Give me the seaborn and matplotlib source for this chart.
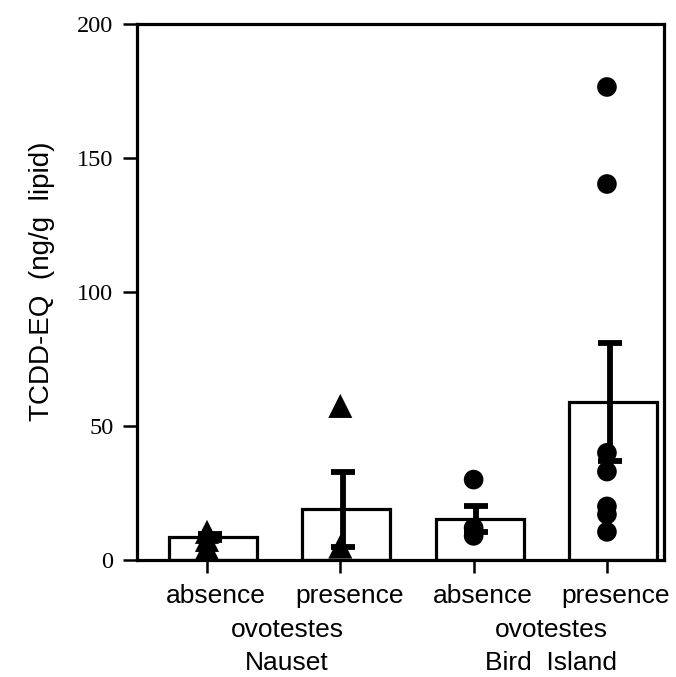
import numpy as np
import pandas as pd
import matplotlib
matplotlib.use("Agg")
import matplotlib.pyplot as plt
import seaborn as sns
from matplotlib.transforms import ScaledTranslation, blended_transform_factory

# Group summary: mean TCDD-EQ and standard error per group
sites = ["Nauset", "Nauset", "Bird Island", "Bird Island"]
conditions = ["absence", "presence", "absence", "presence"]
mean_teq = [8.6, 19.0, 15.3, 59.0]
se_teq = [1.2, 14.0, 5.0, 22.0]

# Individual samples (ng/g lipid)
nauset_absence = [10.5, 7.5, 4.5]
nauset_presence = [57.5, 5.0]
bird_absence = [30.0, 12.0, 9.0]
bird_presence = [176.5, 140.3, 40.0, 33.0, 20.0, 17.0, 10.5]

y_ticks = [0, 50, 100, 150, 200]

keys = [f"{s} {c}" for s, c in zip(sites, conditions)]
summary = pd.DataFrame({"group": keys, "site": sites, "condition": conditions,
                        "mean": mean_teq, "se": se_teq})

samples = [nauset_absence, nauset_presence, bird_absence, bird_presence]
points = pd.DataFrame({
    "pos": np.concatenate([[i] * len(v) for i, v in enumerate(samples)]),
    "teq": np.concatenate(samples),
    "site": np.concatenate([[sites[i]] * len(v) for i, v in enumerate(samples)]),
})

sns.set_theme(style="ticks")
plt.rcParams["font.family"] = ["Liberation Sans", "DejaVu Sans"]

fig = plt.figure(figsize=(6.76, 6.77), dpi=100)
ax = fig.add_axes([137 / 676, 1 - 560 / 677, (664 - 137) / 676, (560 - 24) / 677])

sns.barplot(data=summary, x="group", y="mean", order=keys, color="white",
            saturation=1, edgecolor="black", linewidth=2.3, width=0.66,
            errorbar=None, ax=ax, zorder=2)

# bars sit slightly to the right of their tick
shift = ScaledTranslation(6 / 100, 0, fig.dpi_scale_trans)
for patch in ax.patches:
    patch.set_transform(ax.transData + shift)

ax.errorbar(np.arange(len(keys)) + 0.02, summary["mean"], yerr=summary["se"],
            fmt="none", ecolor="black", elinewidth=4.2, capsize=8.3,
            capthick=4.2, zorder=3)

sns.scatterplot(data=points, x="pos", y="teq", style="site", size="site",
                markers={"Nauset": "^", "Bird Island": "o"},
                sizes={"Nauset": 300, "Bird Island": 200},
                color="black", edgecolor="black", linewidth=0,
                legend=False, ax=ax, zorder=4)

ax.set_xlim(-0.525, 3.428)
ax.set_ylim(0, 200)
ax.set_yticks(y_ticks)
ax.set_yticklabels([str(t) for t in y_ticks],
                   fontfamily=["Liberation Serif", "DejaVu Serif"], fontsize=17.5)
ax.set_xticks(range(len(keys)))
ax.set_xticklabels(conditions, fontsize=19)
ax.set_xlabel("")

for side in ["left", "right", "top", "bottom"]:
    ax.spines[side].set_linewidth(2.3)
    ax.spines[side].set_color("black")

ax.tick_params(axis="y", direction="out", length=10, width=1.8, pad=7,
               colors="black")
ax.tick_params(axis="x", direction="out", length=9.5, width=1.8, pad=8,
               colors="black")
label_shift = ScaledTranslation(9 / 100, 0, fig.dpi_scale_trans)
for lbl in ax.get_xticklabels():
    lbl.set_transform(lbl.get_transform() + label_shift)

ax.set_ylabel("TCDD-EQ  (ng/g  lipid)", fontsize=20, color="black")
ax.yaxis.set_label_coords(-0.156, 0.52)

# site captions under each pair of bars
blend = blended_transform_factory(ax.transData, fig.transFigure)
for x, site in [(0.6, "Nauset"), (2.58, "Bird  Island")]:
    fig.text(x, 1 - 637 / 677, "ovotestes", transform=blend, ha="center",
             va="baseline", fontsize=19, color="black")
    fig.text(x, 1 - 670 / 677, site, transform=blend, ha="center",
             va="baseline", fontsize=19, color="black")

fig.savefig("out.png", dpi=100)
